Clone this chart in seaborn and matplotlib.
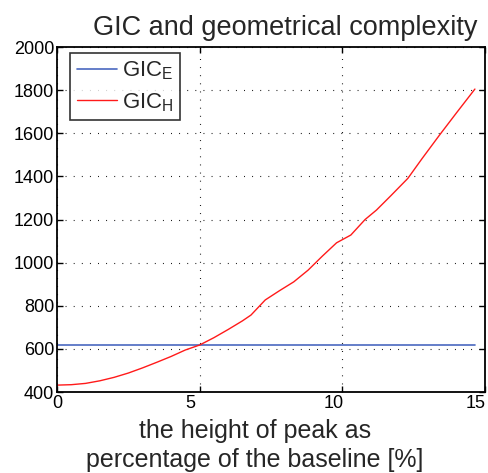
import numpy as np
import pandas as pd
import matplotlib
matplotlib.use('Agg')
import matplotlib.pyplot as plt
import matplotlib.transforms as mtransforms
import seaborn as sns

# =========================
# data
# =========================
peak_height = [0, 0.5, 1, 1.5, 2, 2.5, 3, 3.5, 4, 4.5, 5, 5.5, 6, 6.5, 6.8,
               7.3, 7.8, 8.3, 8.8, 9.3, 9.8, 10.3, 10.8, 11.2, 11.7, 12.3,
               12.8, 13.4, 14.0, 14.65]
gic_h = [432, 434, 440, 452, 468, 488, 512, 538, 565, 595, 618, 652, 690,
         730, 757, 827, 870, 911, 965, 1030, 1092, 1128, 1200, 1244, 1310,
         1391, 1483, 1590, 1694, 1805]
gic_e_value = 620
x_ticks = [0, 5, 10, 15]
y_ticks = [400, 600, 800, 1000, 1200, 1400, 1600, 1800, 2000]

df_h = pd.DataFrame({'height': peak_height, 'gic': gic_h})
df_e = pd.DataFrame({'height': [peak_height[0], peak_height[-1]],
                     'gic': [gic_e_value, gic_e_value]})

# =========================
# style
# =========================
sns.set_style('ticks')
plt.rcParams['font.family'] = ['Liberation Sans', 'DejaVu Sans']
plt.rcParams['mathtext.fontset'] = 'custom'
plt.rcParams['mathtext.rm'] = 'Liberation Sans'

fig = plt.figure(figsize=(4.89, 4.73), dpi=100)
ax = fig.add_axes([0.1166, 0.1712, 0.875, 0.7294])

sns.lineplot(data=df_e, x='height', y='gic', ax=ax, color='#4a68c0',
             linewidth=1.2, label=r'GIC$_\mathrm{E}$')
sns.lineplot(data=df_h, x='height', y='gic', ax=ax, color='#ff1a1a',
             linewidth=1.0, label=r'GIC$_\mathrm{H}$')

ax.set_xlim(0, 15)
ax.set_ylim(400, 2000)
ax.set_xticks(x_ticks)
ax.set_yticks(y_ticks)
ax.tick_params(direction='in', top=True, right=True, length=4, width=1,
               labelsize=13, pad=2, colors='black')
for s in ax.spines.values():
    s.set_linewidth(1.3)
    s.set_color('black')

# x tick labels sit a little left of their ticks in the reference
shift = mtransforms.ScaledTranslation(-9 / 100, 0, fig.dpi_scale_trans)
for lab, val in zip(ax.get_xticklabels(), x_ticks):
    if val > 0:
        lab.set_transform(lab.get_transform() + shift)

ax.grid(True, color='black', linestyle=(0, (0.8, 6.5)), linewidth=0.8)

ax.set_title('GIC and geometrical complexity', fontsize=19.5, x=0.534, pad=9)
ax.set_xlabel('the height of peak as\npercentage of the baseline [%]',
              fontsize=18, linespacing=1.25)
ax.xaxis.set_label_coords(0.463, -0.078, transform=ax.transAxes)
ax.xaxis.label.set_va('top')
ax.set_ylabel('')

leg = ax.legend(loc='upper left', bbox_to_anchor=(0.030, 0.983),
                borderaxespad=0, fontsize=16, frameon=True, fancybox=False,
                handlelength=1.8, handletextpad=0.25, borderpad=0.3,
                labelspacing=0.4)
leg.get_frame().set_edgecolor('black')
leg.get_frame().set_linewidth(1.2)

fig.savefig('out.png', dpi=100)
